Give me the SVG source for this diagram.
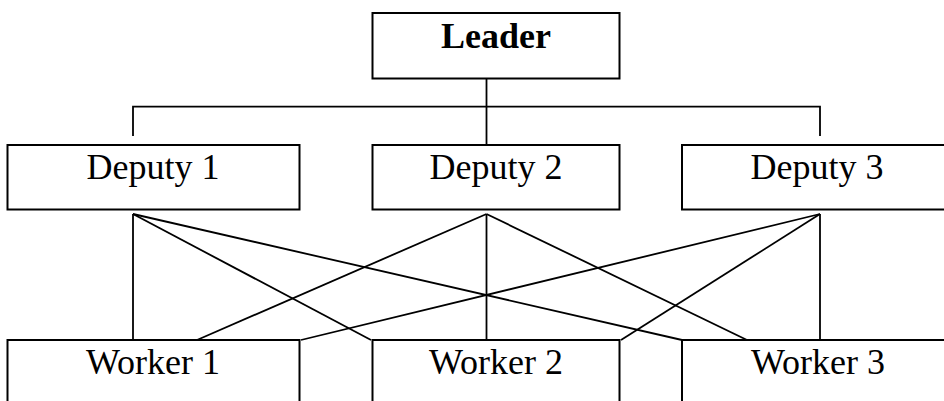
<svg xmlns="http://www.w3.org/2000/svg" width="944" height="401" viewBox="0 0 944 401">
<style>
.box{fill:#fff;stroke:#000;stroke-width:2}
.lbl{font-family:"Liberation Serif","Times New Roman",serif;font-size:36px;fill:#000;text-anchor:middle}
.b{font-weight:bold}
.ln{fill:none;stroke:#000;stroke-width:1.8}
</style>
<rect width="944" height="401" fill="#fff"/>
<g id="connectors">
<polyline class="ln" points="133,136 133,106.7 820,106.7 820,136"/>
<line class="ln" x1="486.5" y1="78.5" x2="486.5" y2="146"/>
<line class="ln" x1="133" y1="214" x2="133" y2="340"/>
<line class="ln" x1="133" y1="214" x2="371" y2="340"/>
<line class="ln" x1="133" y1="214" x2="682" y2="340"/>
<line class="ln" x1="486.5" y1="214" x2="197" y2="340"/>
<line class="ln" x1="486.5" y1="214" x2="486.5" y2="340"/>
<line class="ln" x1="486.5" y1="214" x2="747" y2="340"/>
<line class="ln" x1="820" y1="214" x2="301" y2="340"/>
<line class="ln" x1="820" y1="214" x2="621" y2="340"/>
<line class="ln" x1="820" y1="214" x2="820" y2="340"/>
</g>
<g id="leader"><rect class="box" x="372.5" y="13" width="247" height="65.5"/><text class="lbl b" x="496" y="47.5">Leader</text></g>
<g id="deputy1"><rect class="box" x="7.5" y="145" width="292" height="64.5"/><text class="lbl" x="153" y="179">Deputy 1</text></g>
<g id="deputy2"><rect class="box" x="372.5" y="145" width="247" height="64.5"/><text class="lbl" x="496" y="179">Deputy 2</text></g>
<g id="deputy3"><rect class="box" x="682" y="145" width="270" height="64.5"/><text class="lbl" x="817" y="179">Deputy 3</text></g>
<g id="worker1"><rect class="box" x="7.5" y="340" width="292" height="80"/><text class="lbl" x="153" y="374">Worker 1</text></g>
<g id="worker2"><rect class="box" x="372.5" y="340" width="247" height="80"/><text class="lbl" x="496" y="374">Worker 2</text></g>
<g id="worker3"><rect class="box" x="682" y="340" width="270" height="80"/><text class="lbl" x="818" y="374">Worker 3</text></g>
</svg>
